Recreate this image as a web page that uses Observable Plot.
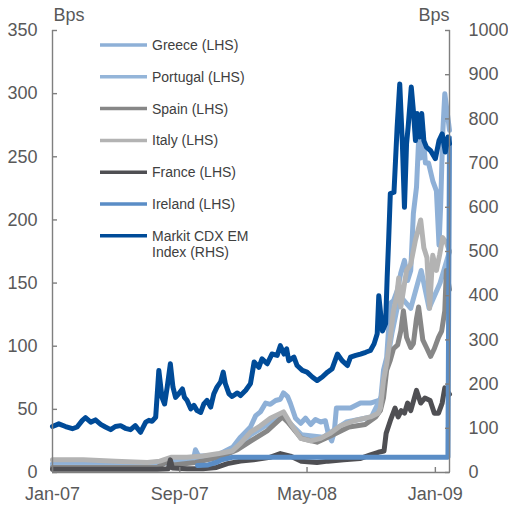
<!DOCTYPE html>
<html>
<head>
<meta charset="utf-8">
<script src="https://cdn.jsdelivr.net/npm/d3@7"></script>
<script src="https://cdn.jsdelivr.net/npm/@observablehq/plot@0.6"></script>
<style>
  html, body { margin: 0; padding: 0; background: #fff; }
  #chart { position: relative; width: 508px; height: 509px; }
</style>
</head>
<body>
<div id="chart"></div>
<script>
// Sovereign CDS spreads (LHS, bps) and Markit CDX EM index (RHS, bps)
const greece = [
  ["2007-01-01", 7], ["2007-03-01", 6.5], ["2007-05-01", 6], ["2007-07-01", 6],
  ["2007-07-25", 8], ["2007-08-15", 10], ["2007-09-10", 10], ["2007-09-27", 10],
  ["2007-10-01", 18], ["2007-10-07", 13], ["2007-10-30", 13], ["2007-11-18", 15],
  ["2007-11-27", 17], ["2007-12-11", 20], ["2007-12-26", 28], ["2008-01-14", 36],
  ["2008-01-24", 45], ["2008-02-02", 48], ["2008-02-12", 55], ["2008-02-21", 54],
  ["2008-03-02", 57], ["2008-03-11", 58], ["2008-03-17", 63], ["2008-03-25", 60],
  ["2008-03-30", 55], ["2008-04-09", 43], ["2008-04-19", 39], ["2008-04-28", 43],
  ["2008-05-08", 38], ["2008-05-17", 42], ["2008-05-27", 40], ["2008-06-05", 41],
  ["2008-06-11", 30], ["2008-06-17", 25], ["2008-06-22", 32], ["2008-06-26", 51],
  ["2008-07-04", 51], ["2008-07-23", 51], ["2008-08-11", 55], ["2008-08-30", 55],
  ["2008-09-14", 57], ["2008-09-18", 55], ["2008-09-24", 81], ["2008-09-30", 91],
  ["2008-10-07", 134], ["2008-10-13", 136], ["2008-10-21", 145], ["2008-10-27", 158],
  ["2008-11-03", 168], ["2008-11-09", 152], ["2008-11-15", 160], ["2008-11-20", 205],
  ["2008-11-26", 226], ["2008-11-30", 263], ["2008-12-04", 249], ["2008-12-08", 270],
  ["2008-12-13", 245], ["2008-12-19", 245], ["2008-12-27", 231], ["2009-01-03", 223],
  ["2009-01-08", 180], ["2009-01-11", 210], ["2009-01-15", 268], ["2009-01-19", 300],
  ["2009-01-24", 284], ["2009-01-28", 271]
];
const portugal = [
  ["2007-01-01", 5], ["2007-07-01", 5], ["2007-08-15", 8], ["2007-10-01", 10],
  ["2007-12-01", 14], ["2008-01-15", 30], ["2008-03-15", 45], ["2008-04-20", 30],
  ["2008-06-01", 28], ["2008-07-15", 40], ["2008-09-01", 44], ["2008-09-20", 60],
  ["2008-10-10", 110], ["2008-10-25", 140], ["2008-11-15", 130], ["2008-12-05", 160],
  ["2008-12-20", 130], ["2009-01-10", 150], ["2009-01-28", 175]
];
const spain = [
  ["2007-01-01", 4], ["2007-07-20", 4], ["2007-08-10", 9], ["2007-08-20", 6],
  ["2007-10-01", 8], ["2007-11-15", 12], ["2007-12-20", 18], ["2008-01-15", 25],
  ["2008-02-15", 33], ["2008-03-15", 44], ["2008-03-25", 40], ["2008-04-20", 27],
  ["2008-05-20", 24], ["2008-06-20", 30], ["2008-07-20", 36], ["2008-08-20", 38],
  ["2008-09-09", 44], ["2008-09-18", 49], ["2008-09-24", 59], ["2008-09-30", 81],
  ["2008-10-07", 89], ["2008-10-13", 98], ["2008-10-21", 101], ["2008-10-27", 112],
  ["2008-11-01", 128], ["2008-11-07", 107], ["2008-11-15", 99], ["2008-11-20", 102],
  ["2008-11-26", 122], ["2008-11-30", 131], ["2008-12-08", 105], ["2008-12-15", 99],
  ["2008-12-23", 92], ["2008-12-30", 98], ["2009-01-07", 107], ["2009-01-13", 112],
  ["2009-01-19", 128], ["2009-01-22", 160], ["2009-01-28", 145]
];
const italy = [
  ["2007-01-01", 10], ["2007-03-01", 10], ["2007-05-01", 9], ["2007-07-01", 8],
  ["2007-07-25", 9], ["2007-08-15", 12], ["2007-09-15", 12], ["2007-10-15", 13],
  ["2007-11-15", 15], ["2007-12-10", 17], ["2007-12-26", 23], ["2008-01-14", 32],
  ["2008-02-02", 37], ["2008-02-21", 43], ["2008-03-17", 48], ["2008-03-30", 39],
  ["2008-04-19", 27], ["2008-05-08", 25], ["2008-05-27", 27], ["2008-06-14", 31],
  ["2008-07-04", 37], ["2008-07-30", 41], ["2008-08-30", 44], ["2008-09-14", 47],
  ["2008-09-18", 51], ["2008-09-24", 73], ["2008-09-30", 86], ["2008-10-07", 107],
  ["2008-10-13", 128], ["2008-10-19", 139], ["2008-10-23", 154], ["2008-10-27", 131],
  ["2008-11-01", 144], ["2008-11-07", 160], ["2008-11-15", 165], ["2008-11-24", 184],
  ["2008-12-04", 200], ["2008-12-10", 178], ["2008-12-16", 170], ["2008-12-21", 130],
  ["2008-12-27", 172], ["2009-01-03", 160], ["2009-01-09", 172], ["2009-01-15", 186],
  ["2009-01-22", 182], ["2009-01-28", 175]
];
const france = [
  ["2007-01-01", 2.5], ["2007-04-01", 2.5], ["2007-07-20", 2.5], ["2007-08-10", 3],
  ["2007-08-14", 10], ["2007-08-18", 3.5], ["2007-09-15", 3], ["2007-10-15", 3],
  ["2007-11-10", 4], ["2007-12-01", 7], ["2007-12-26", 9], ["2008-01-20", 10],
  ["2008-02-20", 12], ["2008-03-11", 15], ["2008-03-30", 13], ["2008-04-20", 9],
  ["2008-05-20", 8], ["2008-06-10", 9], ["2008-07-10", 10], ["2008-08-10", 11],
  ["2008-08-30", 14], ["2008-09-14", 16], ["2008-09-25", 17], ["2008-09-29", 31],
  ["2008-10-07", 41], ["2008-10-16", 51], ["2008-10-22", 44], ["2008-10-28", 49],
  ["2008-11-03", 47], ["2008-11-09", 55], ["2008-11-15", 49], ["2008-11-26", 65],
  ["2008-12-04", 55], ["2008-12-12", 59], ["2008-12-22", 57], ["2008-12-30", 47],
  ["2009-01-07", 47], ["2009-01-14", 55], ["2009-01-19", 67], ["2009-01-28", 62]
];
const ireland = [
  ["2007-10-05", 5.5], ["2007-10-25", 6], ["2007-11-10", 8], ["2007-11-20", 10],
  ["2007-12-10", 12], ["2009-01-25", 12], ["2009-01-28", 265]
];
const markitCdxEm = [
  ["2007-01-01", 104], ["2007-01-13", 110], ["2007-01-26", 104], ["2007-02-08", 99],
  ["2007-02-17", 103], ["2007-02-27", 118], ["2007-03-05", 124], ["2007-03-15", 114],
  ["2007-03-24", 119], ["2007-04-03", 109], ["2007-04-12", 103], ["2007-04-22", 97],
  ["2007-05-01", 104], ["2007-05-11", 106], ["2007-05-20", 100], ["2007-05-30", 97],
  ["2007-06-08", 106], ["2007-06-18", 91], ["2007-06-28", 114], ["2007-07-04", 118],
  ["2007-07-10", 116], ["2007-07-17", 125], ["2007-07-23", 231], ["2007-07-29", 170],
  ["2007-08-03", 155], ["2007-08-08", 193], ["2007-08-14", 246], ["2007-08-19", 193],
  ["2007-08-24", 170], ["2007-08-30", 178], ["2007-09-06", 189], ["2007-09-10", 170],
  ["2007-09-15", 163], ["2007-09-22", 144], ["2007-09-28", 152], ["2007-10-04", 140],
  ["2007-10-11", 136], ["2007-10-17", 155], ["2007-10-23", 163], ["2007-10-30", 148],
  ["2007-11-05", 178], ["2007-11-11", 193], ["2007-11-18", 205], ["2007-11-23", 227],
  ["2007-11-27", 201], ["2007-12-04", 178], ["2007-12-10", 172], ["2007-12-20", 180],
  ["2007-12-26", 174], ["2008-01-05", 186], ["2008-01-14", 201], ["2008-01-21", 250],
  ["2008-01-30", 238], ["2008-02-05", 257], ["2008-02-15", 246], ["2008-02-24", 268],
  ["2008-03-05", 265], ["2008-03-11", 287], ["2008-03-18", 268], ["2008-03-23", 280],
  ["2008-03-27", 253], ["2008-04-06", 261], ["2008-04-12", 242], ["2008-04-22", 231],
  ["2008-05-01", 227], ["2008-05-11", 216], ["2008-05-20", 208], ["2008-05-30", 216],
  ["2008-06-09", 227], ["2008-06-18", 235], ["2008-06-28", 268], ["2008-07-07", 253],
  ["2008-07-17", 242], ["2008-07-23", 261], ["2008-08-02", 265], ["2008-08-11", 268],
  ["2008-08-21", 272], ["2008-08-30", 276], ["2008-09-06", 291], ["2008-09-12", 314],
  ["2008-09-15", 400], ["2008-09-22", 320], ["2008-09-28", 337], ["2008-10-01", 442],
  ["2008-10-04", 532], ["2008-10-07", 631], ["2008-10-14", 634], ["2008-10-20", 781],
  ["2008-10-25", 879], ["2008-10-30", 744], ["2008-11-03", 600], ["2008-11-07", 744],
  ["2008-11-10", 781], ["2008-11-16", 872], ["2008-11-20", 819], ["2008-11-24", 751],
  ["2008-11-27", 812], ["2008-12-02", 759], ["2008-12-06", 812], ["2008-12-10", 751],
  ["2008-12-15", 736], ["2008-12-23", 728], ["2009-01-01", 710], ["2009-01-08", 751],
  ["2009-01-14", 766], ["2009-01-20", 725], ["2009-01-25", 759], ["2009-01-28", 744]
];

const seriesNames = [
  "Greece (LHS)", "Portugal (LHS)", "Spain (LHS)", "Italy (LHS)",
  "France (LHS)", "Ireland (LHS)", "Markit CDX EM Index (RHS)"
];
const seriesColors = ["#8eb0d7", "#94b5d9", "#878787", "#b3b3b3", "#4f4f53", "#5a8dc6", "#004b98"];
const seriesData = [greece, portugal, spain, italy, france, ireland, markitCdxEm];
const rhsSeries = new Set(["Markit CDX EM Index (RHS)"]);
const legendLabels = [
  ["Greece (LHS)"], ["Portugal (LHS)"], ["Spain (LHS)"], ["Italy (LHS)"],
  ["France (LHS)"], ["Ireland (LHS)"], ["Markit CDX EM", "Index (RHS)"]
];

const leftTicks = [0, 50, 100, 150, 200, 250, 300, 350];
const rightTicks = [0, 100, 200, 300, 400, 500, 600, 700, 800, 900, 1000];
const xTicks = ["2007-01-01", "2007-09-01", "2008-05-01", "2009-01-01"];
const xDomain = ["2007-01-01", "2009-01-28"];

// The right-hand axis (0–1000) is mapped onto the left scale (0–350)
const lhsMax = 350, rhsMax = 1000;
const rhsToLhs = lhsMax / rhsMax;

const rows = seriesData.flatMap((pts, i) => pts.map(([d, v]) => ({
  series: seriesNames[i],
  date: new Date(d),
  y: rhsSeries.has(seriesNames[i]) ? v * rhsToLhs : v
})));

const axisColor = "#7f7f7f";
const textColor = "#595959";
const fontFamily = "'Liberation Sans', Arial, sans-serif";
const fmtMonth = d3.utcFormat("%b-%y");

const svg = Plot.plot({
  width: 508,
  height: 509,
  marginLeft: 52,
  marginRight: 59,
  marginTop: 30,
  marginBottom: 37,
  style: {fontFamily, fontSize: "18px", color: textColor, background: "#fff"},
  x: {type: "utc", domain: xDomain.map(d => new Date(d))},
  y: {domain: [0, lhsMax]},
  color: {domain: seriesNames, range: seriesColors},
  marks: [
    Plot.line(rows, {
      x: "date", y: "y", z: "series", stroke: "series",
      strokeWidth: 5, strokeLinejoin: "round", strokeLinecap: "round"
    }),
    Plot.ruleX([new Date(xDomain[0])], {stroke: axisColor, strokeWidth: 1.4}),
    Plot.ruleX([new Date(xDomain[1])], {stroke: axisColor, strokeWidth: 1.4}),
    Plot.ruleY([0], {stroke: axisColor, strokeWidth: 1.4}),
    Plot.axisY({
      anchor: "left", ticks: leftTicks, tickSize: -5, tickPadding: 20,
      stroke: axisColor, strokeWidth: 1.4, fill: textColor, label: null
    }),
    Plot.axisY({
      anchor: "right", ticks: rightTicks.map(v => v * rhsToLhs), tickSize: -5, tickPadding: 24,
      tickFormat: v => String(Math.round(v / rhsToLhs)),
      stroke: axisColor, strokeWidth: 1.4, fill: textColor, label: null
    }),
    Plot.axisX({
      ticks: xTicks.map(d => new Date(d)), tickSize: -5, tickPadding: 20,
      tickFormat: fmtMonth, stroke: axisColor, strokeWidth: 1.4, fill: textColor, label: null
    }),
    Plot.text(["Bps"], {frameAnchor: "top-left", textAnchor: "start", lineAnchor: "bottom", dx: 1, dy: -10, fill: textColor}),
    Plot.text(["Bps"], {frameAnchor: "top-right", textAnchor: "end", lineAnchor: "bottom", dy: -10, fill: textColor})
  ]
});

// Legend, drawn inside the plot area
const legend = d3.select(svg).append("g")
  .attr("font-family", fontFamily)
  .attr("font-size", 14)
  .attr("text-anchor", "start")
  .attr("fill", "#404040");
legendLabels.forEach((lines, i) => {
  const cy = 45 + i * 31.8;
  legend.append("line")
    .attr("x1", 100).attr("x2", 147).attr("y1", cy).attr("y2", cy)
    .attr("stroke", seriesColors[i]).attr("stroke-width", 3.5);
  const t = legend.append("text").attr("x", 152).attr("y", cy);
  lines.forEach((s, j) => {
    t.append("tspan").attr("x", 152).attr("dy", j === 0 ? "0.35em" : "1.15em").text(s);
  });
});

document.getElementById("chart").appendChild(svg);
</script>
</body>
</html>
